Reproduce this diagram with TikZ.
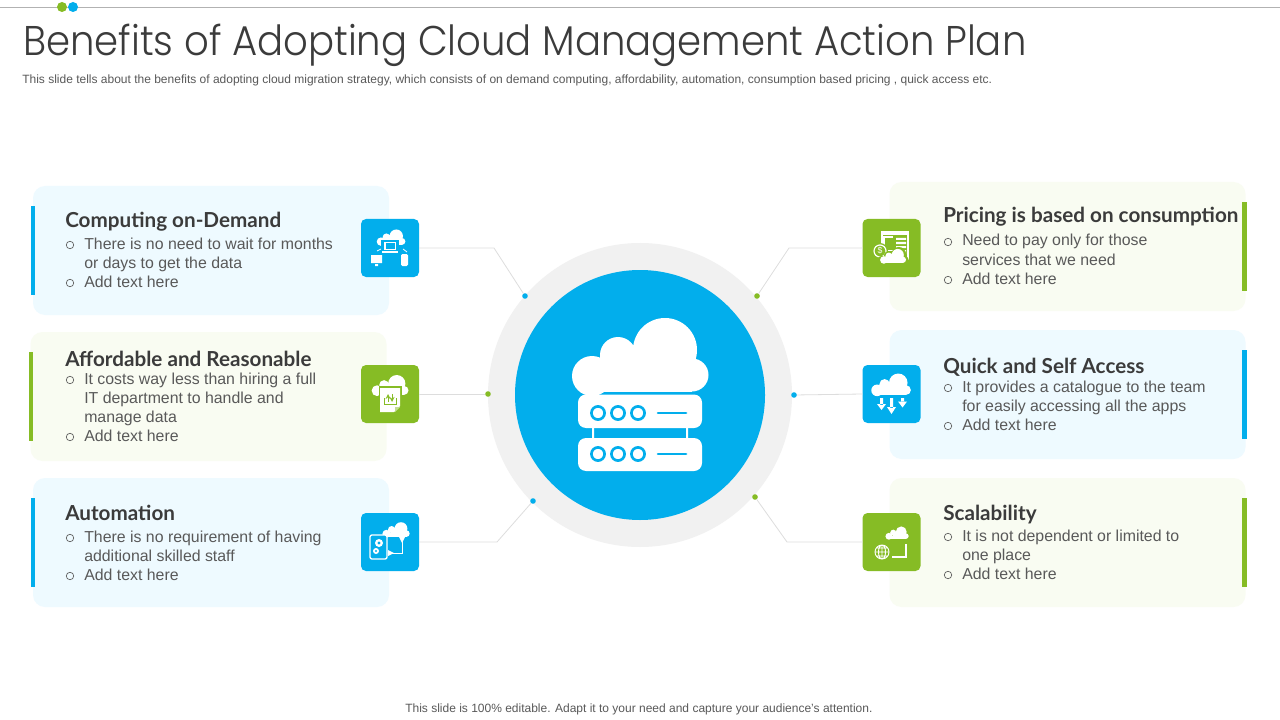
\documentclass[tikz,border=0pt]{standalone}
\usepackage{fontspec}
\setmainfont{Liberation Sans}
\newfontfamily\titlefont[FakeStretch=0.93]{Poppins Light}
\newfontfamily\headfont{Lato}
\definecolor{cblue}{HTML}{02AEEC}
\definecolor{cgreen}{HTML}{86BC25}
\definecolor{lblue}{HTML}{EEFAFF}
\definecolor{lgreen}{HTML}{F9FCF2}
\definecolor{ring}{HTML}{F1F1F1}
\definecolor{linec}{HTML}{DDDDDD}
\definecolor{bodyc}{HTML}{595959}
\definecolor{headc}{HTML}{3B3B3B}
\newcommand{\cloudat}[4]{% cx, base y, scale, colour
  \begin{scope}[shift={(#1,#2)},scale=#3]
    \fill[#4] (25,-42) circle (32) (-22,-37) circle (18) (-48,-16) circle (20) (52,-17) circle (16.5);
    \fill[#4] (-48,-20) rectangle (52,0);
    \fill[#4] (-25,-40) rectangle (25,-15);
  \end{scope}}
\tikzset{
  x=0.75pt,y=-0.75pt,
  card/.style={rounded corners=9pt,minimum width=267pt,minimum height=96.75pt,inner sep=0pt,outer sep=0pt},
  bluecard/.style={card,fill=lblue},
  greencard/.style={card,fill=lgreen},
  iconbox/.style={rounded corners=3.75pt,minimum width=43.5pt,minimum height=43.5pt,inner sep=0pt,outer sep=0pt},
  dotn/.style={circle,minimum size=4.2pt,inner sep=0pt,outer sep=0pt},
  conn/.style={draw=linec,line width=0.6pt},
  heading/.style={anchor=base west,inner sep=0pt,text=headc,font=\headfont\bfseries\fontsize{15.5}{17}\selectfont},
  body/.style={anchor=base west,inner sep=0pt,text=bodyc,font=\fontsize{11.9}{14}\selectfont},
  bul/.style={circle,draw=bodyc,line width=0.5pt,minimum size=5.6pt,inner sep=0pt},
  small/.style={anchor=base west,inner sep=0pt,text=bodyc,font=\fontsize{9}{11}\selectfont},
}
\begin{document}
\begin{tikzpicture}
\useasboundingbox (0,0) rectangle (1280,720);
\fill[white] (0,0) rectangle (1280,720);
% top rule
\coordinate (ruleL) at (0,7.5); \coordinate (ruleR) at (1280,7.5);
\draw[draw=black!30,line width=0.6pt] (ruleL) -- (ruleR);
\node[circle,fill=cgreen,minimum size=7.5pt,inner sep=0pt] (dotA) at (62,7) {};
\node[circle,fill=cblue,minimum size=7.5pt,inner sep=0pt] (dotB) at (73,7) {};
% titles
\node[anchor=base west,inner sep=0pt,text=headc,font=\titlefont\fontsize{31.15}{36}\selectfont] (title) at (23,56) {Benefits of Adopting Cloud Management Action Plan};
\node[small] (sub) at (22,84) {This slide tells about the benefits of adopting cloud migration strategy, which consists of on demand computing, affordability, automation, consumption based pricing , quick access etc.};
\node[small] (foot) at (405,712) {This slide is 100\% editable. Adapt it to your need and capture your audience’s attention.};
% cards
\node[bluecard] (cA) at (211,250.5) {};
\node[greencard] (cB) at (208.5,396.5) {};
\node[bluecard] (cC) at (211,542.5) {};
\node[greencard] (cD) at (1067.5,246.5) {};
\node[bluecard] (cE) at (1067.5,394.5) {};
\node[greencard] (cF) at (1067.5,542.5) {};
% accent bars
\fill[cblue] (31,206) rectangle (35,295);
\fill[cgreen] (29,352) rectangle (33,441);
\fill[cblue] (31,498) rectangle (35,587);
\fill[cgreen] (1242,202) rectangle (1247,291);
\fill[cblue] (1242,350) rectangle (1247,439);
\fill[cgreen] (1242,498) rectangle (1247,587);
% central circle
\node[circle,fill=ring,minimum size=228pt,inner sep=0pt] (outer) at (640,395) {};
\node[circle,fill=cblue,minimum size=187.5pt,inner sep=0pt] (inner) at (640,395) {};
% central icon
\cloudat{640}{392}{1}{white}
\fill[white] (592,426) rectangle (594,440) (686,426) rectangle (688,440);
\fill[white,rounded corners=6pt] (578,394.5) rectangle (702,428);
\fill[white,rounded corners=6pt] (578,438) rectangle (702,471);
\foreach \yy in {413,454}{
  \foreach \xx in {598,618,638}{\draw[cblue,line width=2pt,fill=white] (\xx,\yy) circle (6.6);}
  \draw[cblue,line width=2pt,line cap=round] (658,\yy) -- (686,\yy);
}
% icon boxes
\node[iconbox,fill=cblue] (iA) at (390,248) {};
\node[iconbox,fill=cgreen] (iB) at (390,394) {};
\node[iconbox,fill=cblue] (iC) at (390,542) {};
\node[iconbox,fill=cgreen] (iD) at (891.5,248) {};
\node[iconbox,fill=cblue] (iE) at (891.5,394) {};
\node[iconbox,fill=cgreen] (iF) at (891.5,542) {};
% dots and connectors
\node[dotn,fill=cblue] (dA) at (525,296) {};
\node[dotn,fill=cgreen] (dB) at (488,394) {};
\node[dotn,fill=cblue] (dC) at (533,501) {};
\node[dotn,fill=cgreen] (dD) at (757,296) {};
\node[dotn,fill=cblue] (dE) at (794,395) {};
\node[dotn,fill=cgreen] (dF) at (755,497) {};
\coordinate (bA) at (494,248);
\coordinate (bC) at (497,542);
\coordinate (bD) at (789,248);
\coordinate (bF) at (787,542);
\draw[conn] (iA.east) -- (bA) -- (dA);
\draw[conn] (iB.east) -- (dB);
\draw[conn] (iC.east) -- (bC) -- (dC);
\draw[conn] (iD.west) -- (bD) -- (dD);
\draw[conn] (iE.west) -- (dE);
\draw[conn] (iF.west) -- (bF) -- (dF);
% icon A: cloud, laptop, monitor, phone
\cloudat{391}{245}{0.21}{white}
\fill[cblue] (381,240) rectangle (399,254);
\fill[white] (384,242) rectangle (396,250);
\fill[cblue] (385.5,243.5) rectangle (394.5,248.5);
\fill[white] (382,250.5) rectangle (398,253);
\fill[white] (371,255) rectangle (382,263) (375,264) rectangle (378,266);
\fill[white,rounded corners=1pt] (401,254) rectangle (408,266);
\draw[white,line width=0.6pt] (377,251) -- (381,249) (403,249) -- (407,252);
% icon B: cloud with document
\cloudat{390}{395}{0.27}{white}
\fill[cgreen] (378.5,386) rectangle (401.5,398);
\fill[white] (380,388) -- (400,388) -- (400,406) -- (394,412) -- (380,412) -- cycle;
\fill[cgreen!50!white] (395,412) -- (400,407) -- (395,407) -- cycle;
\draw[cgreen,line width=0.7pt,-stealth] (388,402) -- (388,394);
\draw[cgreen,line width=0.7pt,-stealth] (392,394) -- (392,402);
\draw[cgreen,line width=0.7pt] (384,398) -- (384,404) -- (396,404) -- (396,398);
% icon C: tablet, gears, cloud
\cloudat{396}{537}{0.2}{white}
\draw[white,line width=1pt,fill=cblue,rounded corners=1.5pt] (370,535) rectangle (387,559);
\fill[white] (379,543) circle (4) (376,551) circle (3);
\fill[cblue] (379,543) circle (1.6) (376,551) circle (1.2);
\draw[white,line width=0.6pt] (402,537) -- (402,553) -- (391,553);
\fill[white] (399,537) -- (405,537) -- (402,543) -- cycle;
\fill[white] (388,550) -- (388,556) -- (394,553) -- cycle;
% icon D: window, coin, cloud
\draw[white,line width=0.9pt] (882,232) rectangle (908,259);
\fill[white] (882,231) rectangle (908,235);
\fill[white] (883,236) rectangle (893,251);
\fill[cgreen] (885,238) rectangle (893,250);
\fill[white] (896,238) rectangle (906,240) (896,242) rectangle (906,244) (896,246) rectangle (906,248) (896,250) rectangle (906,254);
\fill[cgreen] (880,251) circle (8);
\draw[white,line width=0.9pt,fill=cgreen] (880,251) circle (6);
\node[text=white,inner sep=0pt,font=\fontsize{6.5}{7}\selectfont] (dollar) at (880,251) {\$};
\cloudat{893}{264}{0.23}{cgreen}
\cloudat{893}{263}{0.19}{white}
% icon E: cloud and arrows
\cloudat{891}{395}{0.29}{white}
\fill[white] (880,398) rectangle (883,405) (877,404) -- (886,404) -- (881.5,410) -- cycle;
\fill[white] (890,398) rectangle (893,408) (887,407) -- (896,407) -- (891.5,414) -- cycle;
\fill[white] (901,398) rectangle (904,402) (898,401.5) -- (907,401.5) -- (902.5,407.5) -- cycle;
% icon F: cloud, globe, corner
\cloudat{897}{539}{0.17}{white}
\draw[white,line width=0.9pt] (906,544) -- (906,557) -- (892,557);
\draw[white,line width=0.7pt] (882,552) circle (7) (882,545) -- (882,559) (875,552) -- (889,552) (876,548) -- (888,548) (876,556) -- (888,556) (882,552) ellipse [x radius=3.5,y radius=7];
% text left
\node[heading] (hA) at (65,228) {Computing on-Demand};
\node[bul] (bA1) at (70,245) {}; \node[body] (tA1) at (84,249) {There is no need to wait for months};
\node[body] (tA2) at (84,268) {or days to get the data};
\node[bul] (bA2) at (70,283) {}; \node[body] (tA3) at (84,287) {Add text here};
\node[heading] (hB) at (65,366) {Affordable and Reasonable};
\node[bul] (bB1) at (70,380) {}; \node[body] (tB1) at (84,384) {It costs way less than hiring a full};
\node[body] (tB2) at (84,403) {IT department to handle and};
\node[body] (tB3) at (84,422) {manage data};
\node[bul] (bB2) at (70,437) {}; \node[body] (tB4) at (84,441) {Add text here};
\node[heading] (hC) at (65,520) {Automation};
\node[bul] (bC1) at (70,538) {}; \node[body] (tC1) at (84,542) {There is no requirement of having};
\node[body] (tC2) at (84,561) {additional skilled staff};
\node[bul] (bC2) at (70,576) {}; \node[body] (tC3) at (84,580) {Add text here};
% text right
\node[heading] (hD) at (943,223) {Pricing is based on consumption};
\node[bul] (bD1) at (948,242) {}; \node[body] (tD1) at (962,246) {Need to pay only for those};
\node[body] (tD2) at (962,265) {services that we need};
\node[bul] (bD2) at (948,280) {}; \node[body] (tD3) at (962,284) {Add text here};
\node[heading] (hE) at (943,373) {Quick and Self Access};
\node[bul] (bE1) at (948,388) {}; \node[body] (tE1) at (962,392) {It provides a catalogue to the team};
\node[body] (tE2) at (962,411) {for easily accessing all the apps};
\node[bul] (bE2) at (948,426) {}; \node[body] (tE3) at (962,430) {Add text here};
\node[heading] (hF) at (943,520) {Scalability};
\node[bul] (bF1) at (948,537) {}; \node[body] (tF1) at (962,541) {It is not dependent or limited to};
\node[body] (tF2) at (962,560) {one place};
\node[bul] (bF2) at (948,575) {}; \node[body] (tF3) at (962,579) {Add text here};
\end{tikzpicture}
\end{document}
